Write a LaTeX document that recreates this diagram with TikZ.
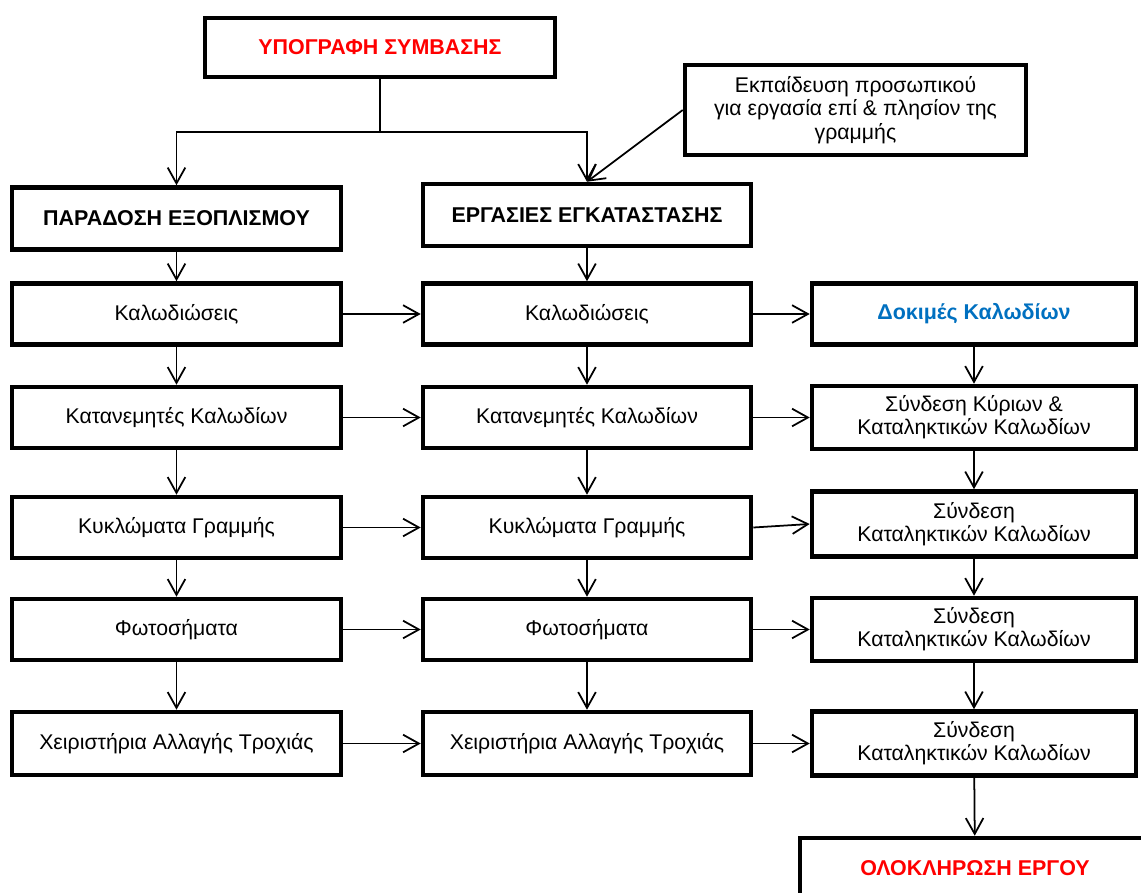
\documentclass[tikz,border=0pt]{standalone}
\usepackage{fontspec}
\setmainfont{Liberation Sans}
\usetikzlibrary{arrows.meta}

\definecolor{signred}{RGB}{255,0,0}
\definecolor{testblue}{RGB}{0,112,192}

\tikzset{
  box/.style={draw, line width=2.6pt, minimum width=6.56cm, minimum height=1.22cm,
    align=center, inner sep=2pt, font=\fontsize{12.1}{13.2}\selectfont},
  headbox/.style={box, font=\fontsize{12.2}{13.5}\selectfont\bfseries},
  arr/.style={-{Straight Barb[length=9pt,width=10pt]}, line width=1pt},
}

\begin{document}
\begin{tikzpicture}
            \useasboundingbox (0,0) rectangle (22.82,-17.86);
            \clip (0,0) rectangle (22.82,-17.86);

            % Top boxes
            \node[headbox, text=signred, minimum width=7cm, minimum height=1.18cm] (sign) at (7.6,-0.95) {ΥΠΟΓΡΑΦΗ ΣΥΜΒΑΣΗΣ};
            \node[box, minimum width=6.82cm, minimum height=1.8cm] (train) at (17.11,-2.2) {Εκπαίδευση προσωπικού\\για εργασία επί \& πλησίον της\\γραμμής};

            % Left column: delivery
            \node[headbox, minimum width=6.58cm, minimum height=1.24cm] (deliv) at (3.53,-4.37) {ΠΑΡΑΔΟΣΗ ΕΞΟΠΛΙΣΜΟΥ};
            \node[box, minimum width=6.58cm] (l1) at (3.53,-6.28) {Καλωδιώσεις};
            \node[box, minimum width=6.58cm] (l2) at (3.53,-8.35) {Κατανεμητές Καλωδίων};
            \node[box, minimum width=6.58cm] (l3) at (3.53,-10.55) {Κυκλώματα Γραμμής};
            \node[box, minimum width=6.58cm] (l4) at (3.53,-12.59) {Φωτοσήματα};
            \node[box, minimum width=6.58cm, minimum height=1.26cm] (l5) at (3.53,-14.87) {Χειριστήρια Αλλαγής Τροχιάς};

            % Middle column: installation
            \node[headbox, minimum height=1.24cm] (works) at (11.74,-4.3) {ΕΡΓΑΣΙΕΣ ΕΓΚΑΤΑΣΤΑΣΗΣ};
            \node[box] (m1) at (11.74,-6.28) {Καλωδιώσεις};
            \node[box] (m2) at (11.74,-8.35) {Κατανεμητές Καλωδίων};
            \node[box] (m3) at (11.74,-10.55) {Κυκλώματα Γραμμής};
            \node[box] (m4) at (11.74,-12.59) {Φωτοσήματα};
            \node[box, minimum height=1.26cm] (m5) at (11.74,-14.87) {Χειριστήρια Αλλαγής Τροχιάς};

            % Right column: tests and connections
            \node[box, minimum width=6.48cm, font=\fontsize{12.2}{13.5}\selectfont\bfseries, text=testblue] (r1) at (19.48,-6.28) {Δοκιμές Καλωδίων};
            \node[box, minimum width=6.48cm, minimum height=1.26cm] (r2) at (19.48,-8.35) {Σύνδεση Κύριων \&\\Καταληκτικών Καλωδίων};
            \node[box, minimum width=6.48cm, minimum height=1.3cm] (r3) at (19.48,-10.48) {Σύνδεση\\Καταληκτικών Καλωδίων};
            \node[box, minimum width=6.48cm, minimum height=1.26cm] (r4) at (19.48,-12.59) {Σύνδεση\\Καταληκτικών Καλωδίων};
            \node[box, minimum width=6.48cm, minimum height=1.28cm] (r5) at (19.48,-14.87) {Σύνδεση\\Καταληκτικών Καλωδίων};
            \node[headbox, text=signred, minimum width=7cm, minimum height=1.2cm] (done) at (19.5,-17.36) {ΟΛΟΚΛΗΡΩΣΗ ΕΡΓΟΥ};

            % Split below the signature
            \coordinate (fork) at (sign.south |- 0,-2.64);
            \draw[line width=1pt] (sign.south) -- (fork);
            \draw[arr] (fork) -| (deliv.north);
            \draw[arr] (fork) -| (works.north);
            \draw[arr] (train.west) -- (works.north);

            % Down the columns
            \draw[arr] (deliv) -- (l1);
            \draw[arr] (works) -- (m1);
            \foreach \a/\b in {1/2, 2/3, 3/4, 4/5} {
                \draw[arr] (l\a) -- (l\b);
                \draw[arr] (m\a) -- (m\b);
                \draw[arr] (r\a) -- (r\b);
            }
            \draw[arr] (r5) -- (done);

            % Across the rows
            \foreach \i in {1,...,5} {
                \draw[arr] (l\i.east) -- (m\i.west);
                \draw[arr] (m\i.east) -- (r\i.west);
            }
        \end{tikzpicture}
\end{document}
